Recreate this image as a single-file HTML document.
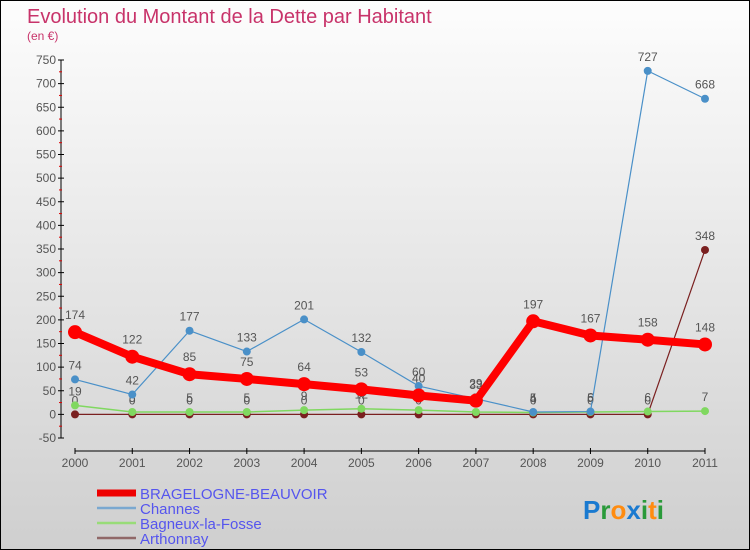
<!DOCTYPE html>
<html><head><meta charset="utf-8"><style>
body{margin:0}
#wrap{width:748px;height:548px;border:1px solid #000;background:linear-gradient(#fdfdfd,#cfcfcf);position:relative;overflow:hidden;font-family:"Liberation Sans",sans-serif}
</style></head><body>
<div id="wrap">
<svg id="svg" width="748" height="548"></svg>
</div>
<script>
const years=["2000","2001","2002","2003","2004","2005","2006","2007","2008","2009","2010","2011"];
const yTicks=[750,700,650,600,550,500,450,400,350,300,250,200,150,100,50,0,-50];
const bragelogne=[174,122,85,75,64,53,40,29,197,167,158,148];
const channes=[74,42,177,133,201,132,60,33,5,6,727,668];
const bagneux=[19,5,5,5,9,12,9,5,4,5,6,7];
const arthonnay=[0,0,0,0,0,0,0,0,0,0,0,348];
const NS="http://www.w3.org/2000/svg";
const svg=document.getElementById('svg');
function x(i){return 74+i*(630/11);}
function y(v){return 59+(750-v)*0.4725;}
function mk(t,a,p){const e=document.createElementNS(NS,t);for(const k in a)e.setAttribute(k,a[k]);(p||svg).appendChild(e);return e;}
let t=mk('text',{x:26,y:22,'font-size':20,fill:'#c8336a'});t.textContent='Evolution du Montant de la Dette par Habitant';

t=mk('text',{x:26,y:39,'font-size':12,fill:'#c8336a'});t.textContent='(en €)';

// y axis
let ax=mk('g',{});
mk('line',{x1:60,y1:y(750),x2:60,y2:y(-50),stroke:'#000'},ax);
yTicks.forEach((v,i)=>{mk('line',{x1:57,x2:63,y1:y(v),y2:y(v),stroke:'#000'},ax);
 if(i<yTicks.length-1)mk('line',{x1:58,x2:61,y1:y(v-25),y2:y(v-25),stroke:'#d00'},ax);
 const tt=mk('text',{x:55,y:y(v)+4,'font-size':12,fill:'#555','text-anchor':'end'},ax);tt.textContent=v;});
let xa=mk('g',{});
mk('line',{x1:x(0),x2:x(11),y1:450,y2:450,stroke:'#000'},xa);
years.forEach((yr,i)=>{mk('line',{x1:x(i),x2:x(i),y1:447,y2:453,stroke:'#000'},xa);
 const tt=mk('text',{x:x(i),y:466,'font-size':12,fill:'#555','text-anchor':'middle'},xa);tt.textContent=yr;});
function series(name,data,color,w,r,labels){
 const g=mk('g',{});
 mk('polyline',{points:data.map((v,i)=>x(i)+','+y(v)).join(' '),fill:'none',stroke:color,'stroke-width':w,'stroke-linejoin':'round'},g);
 data.forEach((v,i)=>{const c=mk('circle',{cx:x(i),cy:y(v),r:r,fill:color},g);
  
  if(labels){const tt=mk('text',{x:x(i),y:y(v)-r-6,'font-size':12,fill:'#555','text-anchor':'middle'},g);tt.textContent=v;}});
}
series('arthonnay',arthonnay,'#7a2020',1.2,4,true);
series('bagneux',bagneux,'#80d860',1.5,4,true);
series('channes',channes,'#4a90c8',1.2,4,true);
series('bragelogne',bragelogne,'#ff0000',8,7,true);
// legend
const leg=[['BRAGELOGNE-BEAUVOIR','#ee0000',7],['Channes','#7aa8d0',2.5],['Bagneux-la-Fosse','#98dc78',2.5],['Arthonnay','#906868',2.5]];
leg.forEach((l,i)=>{const g=mk('g',{});
 const yy=492+i*15;mk('line',{x1:96,x2:135,y1:yy,y2:yy,stroke:l[1],'stroke-width':l[2]},g);
 const tt=mk('text',{x:139,y:yy+6,'font-size':15,fill:'#5555ee'},g);tt.textContent=l[0];});
const lg=mk('text',{x:582,y:518,'font-size':26,'font-weight':'bold'});

[['P','#1a7ad0'],['r','#2a9a3a'],['o','#ff8c10'],['x','#1a7ad0'],['i','#2a9a3a'],['t','#ff8c10'],['i','#2a9a3a']].forEach(c=>{const s=mk('tspan',{fill:c[1]},lg);s.textContent=c[0];});
</script>
</body></html>
